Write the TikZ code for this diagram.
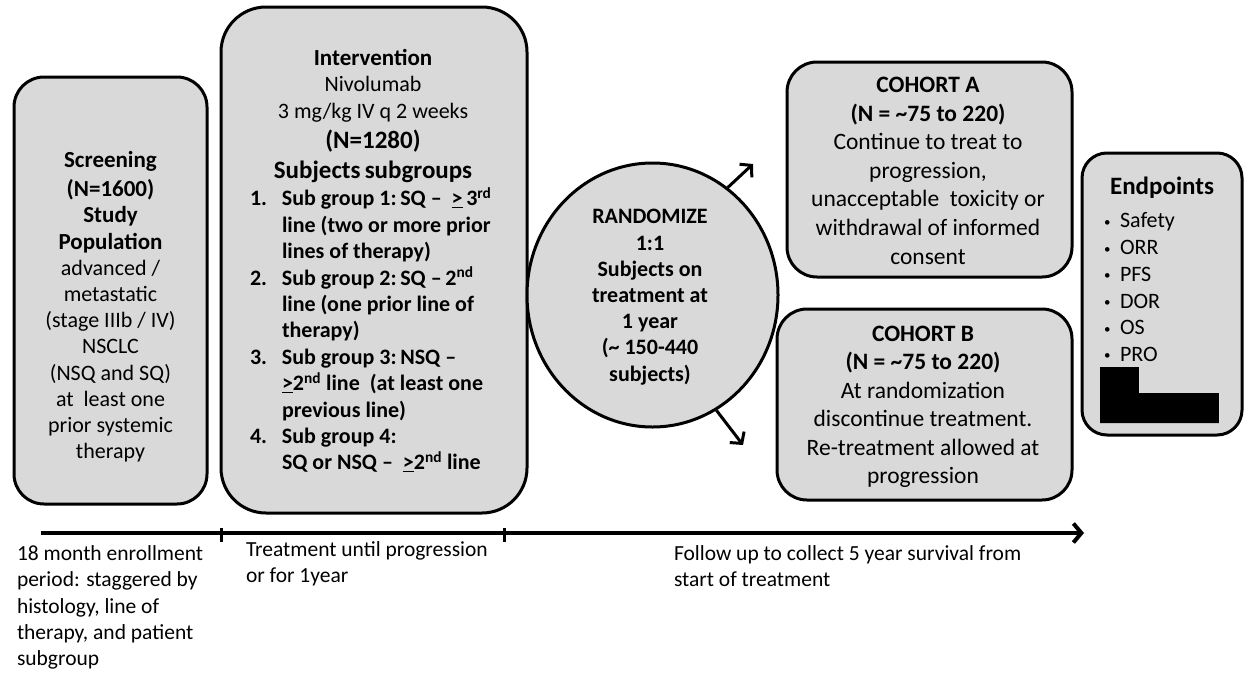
\documentclass[tikz,border=0pt]{standalone}
\usepackage{fontspec}
\setmainfont{Carlito}
\usetikzlibrary{arrows.meta,shapes.geometric}
\definecolor{boxgray}{RGB}{217,217,217}
\newcommand{\fs}[2]{\fontsize{#1}{#2}\selectfont}
\newcommand{\atleast}{\underline{>}}
\newcommand{\ord}[1]{\textsuperscript{#1}}
\newcommand{\smallbullet}{\raisebox{1.5pt}{\fs{13}{13}\textbullet}}

\begin{document}
\begin{tikzpicture}[x=1pt,y=-1pt,
  box/.style={draw=black, line width=3pt, fill=boxgray, inner sep=0pt},
  txt/.style={inner sep=0pt, outer sep=0pt},
  link/.style={line width=3pt, -{Straight Barb[length=8pt,width=18pt]}},
]
\useasboundingbox (0,0) rectangle (1244,672);

% ---- boxes ----
\node[box, rounded corners=30pt, minimum width=193pt, minimum height=427pt] (screen) at (110.5,290.5) {};
\node[box, rounded corners=45pt, minimum width=306pt, minimum height=506pt] (interv) at (374,260) {};
\node[box, ellipse, minimum width=251pt, minimum height=264pt] (rand) at (652.5,295) {};
\node[box, rounded corners=30pt, minimum width=285pt, minimum height=215pt] (cohA) at (929.5,169.5) {};
\node[box, rounded corners=30pt, minimum width=295pt, minimum height=191pt] (cohB) at (924.5,404.5) {};
\node[box, rounded corners=25pt, minimum width=160pt, minimum height=282pt] (endp) at (1162,294) {};

% ---- randomisation arrows ----
\coordinate (toA) at (753,164);
\coordinate (toB) at (743,445);
\draw[link] (rand.55) -- (toA);
\draw[link] (rand.-61) -- (toB);

% ---- screening ----
\node[txt, anchor=north] (screentext) at (110.5,149.4) {\fs{22}{26.2}%
\begin{tabular}{@{}c@{}}
{\fs{23}{26.2}\bfseries Screening}\\[2.8pt]
{\fs{23}{26.2}\bfseries (N=1600)}\\
{\fs{23}{26.2}\bfseries Study}\\
{\fs{23}{26.2}\bfseries Population}\\
advanced /\\
metastatic\\
(stage IIIb / IV)\\
NSCLC\\
(NSQ and SQ)\\
at\ \ least one\\
prior systemic\\
therapy
\end{tabular}};

% ---- intervention ----
\node[txt, anchor=north] (intervhead) at (373,46.4) {\fs{22}{26.6}%
\begin{tabular}{@{}c@{}}
{\fs{23}{26.6}\bfseries Intervention}\\
Nivolumab\\
3 mg/kg IV q 2 weeks\\[3.4pt]
{\fs{25}{30}\bfseries (N=1280)}\\[3.4pt]
{\fs{25}{30}\bfseries Subjects\,subgroups}
\end{tabular}};

\node[txt, anchor=north west] (intervlist) at (250,187.5) {\fs{22}{26.4}\bfseries
\begin{tabular}{@{}p{32pt}@{}l@{}}
1. & Sub group 1:\,SQ \textendash\ \ \atleast\,3\ord{rd}\\
   & line (two or more prior\\
   & lines of therapy)\\
2. & Sub group 2:\,SQ \textendash\,2\ord{nd}\\
   & line (one prior line of\\
   & therapy)\\
3. & Sub group 3:\,NSQ \textendash\\
   & \atleast2\ord{nd} line\ \ (at least one\\
   & previous line)\\
4. & Sub group 4:\\
   & SQ or NSQ \textendash\ \ \atleast2\ord{nd} line
\end{tabular}};

% ---- randomise ----
\node[txt, anchor=north] (randtext) at (650,205.5) {\fs{22}{26.2}\bfseries
\begin{tabular}{@{}c@{}}
RANDOMIZE\\
1:1\\
Subjects on\\
treatment at\\
1 year\\
(\textasciitilde\ 150-440\\
subjects)
\end{tabular}};

% ---- cohorts ----
\node[txt, anchor=north] (cohAtext) at (928,72.5) {\fs{23.5}{28.6}%
\begin{tabular}{@{}c@{}}
\textbf{COHORT A}\\
\textbf{(N = \textasciitilde75 to 220)}\\
Continue to treat to\\
progression,\\
unacceptable\ \ toxicity or\\
withdrawal of informed\\
consent
\end{tabular}};

\node[txt, anchor=north] (cohBtext) at (923,321.5) {\fs{23.5}{28.5}%
\begin{tabular}{@{}c@{}}
\textbf{COHORT B}\\
\textbf{(N = \textasciitilde75 to 220)}\\
At randomization\\
discontinue treatment.\\
Re-treatment allowed at\\
progression
\end{tabular}};

% ---- endpoints ----
\node[txt, anchor=base] (endphead) at (1162,194) {\fs{25}{30}\bfseries Endpoints};
\node[txt, anchor=north west] (endplist) at (1104,209.3) {\fs{22}{26.7}%
\begin{tabular}{@{}p{16pt}@{}l@{}}
\smallbullet & Safety\\
\smallbullet & ORR\\
\smallbullet & PFS\\
\smallbullet & DOR\\
\smallbullet & OS\\
\smallbullet & PRO
\end{tabular}};
\draw[white, line width=1pt] (1100,367) -- (1139,367) -- (1139,393) -- (1219,393) -- (1219,423);
\fill[black] (1100,367) -- (1139,367) -- (1139,393) -- (1219,393) -- (1219,423) -- (1100,423) -- cycle;

% ---- time line ----
\coordinate (tstart) at (41,533);
\coordinate (tend) at (1084,533);
\coordinate (tick1) at (221,533);
\coordinate (tick2) at (504,533);
\draw[line width=4pt, -{Straight Barb[length=8pt,width=19pt]}] (tstart) -- (tend);
\draw[line width=3pt] ([yshift=5pt]tick1) -- ([yshift=-9pt]tick1);
\draw[line width=3pt] ([yshift=5pt]tick2) -- ([yshift=-9pt]tick2);

\node[txt, anchor=north west] (phase1) at (17,542.4) {\fs{21.5}{26.2}%
\begin{tabular}{@{}l@{}}
18 month enrollment\\
period: staggered by\\
histology, line of\\
therapy, and patient\\
subgroup
\end{tabular}};

\node[txt, anchor=north west] (phase2) at (246,538.4) {\fs{21.5}{26.2}%
\begin{tabular}{@{}l@{}}
Treatment until progression\\
or for 1year
\end{tabular}};

\node[txt, anchor=north west] (phase3) at (674,541.7) {\fs{21.5}{26.2}%
\begin{tabular}{@{}l@{}}
Follow up to collect 5 year survival from\\
start of treatment
\end{tabular}};
\end{tikzpicture}
\end{document}
